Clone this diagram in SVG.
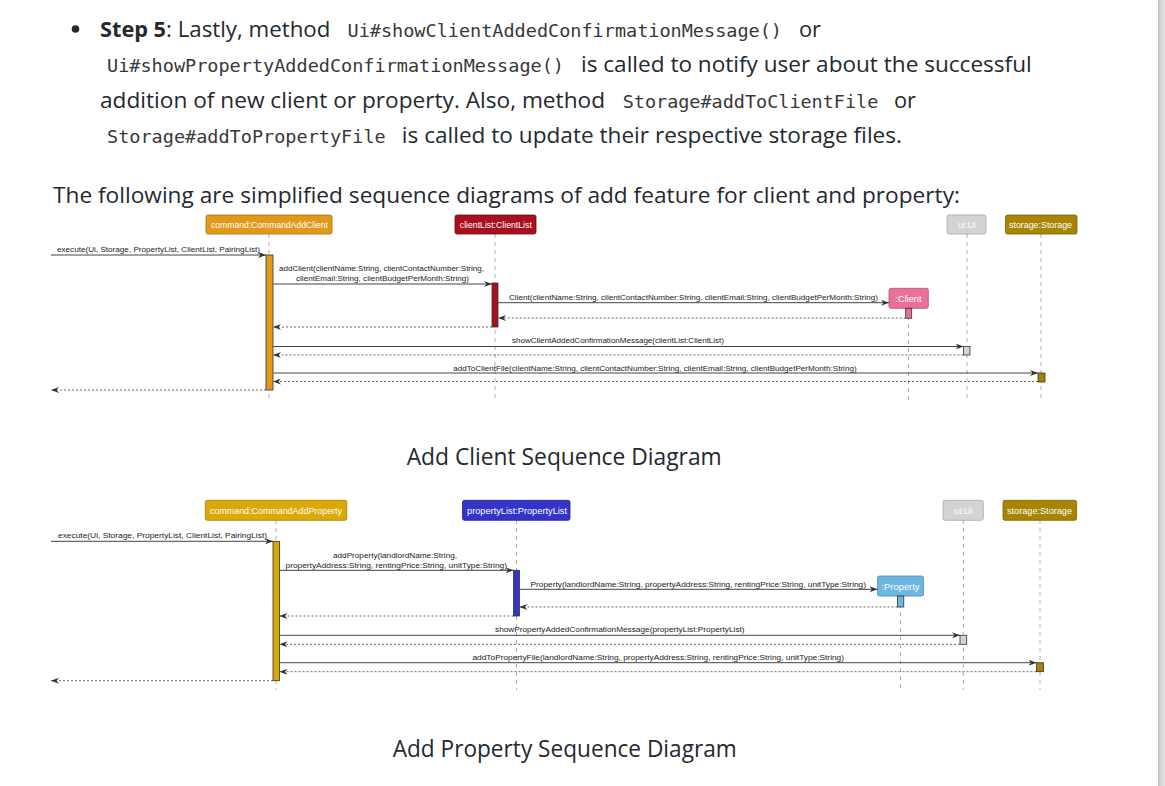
<svg xmlns="http://www.w3.org/2000/svg" width="1165" height="786" viewBox="0 0 1165 786">
<defs>
<style>
.body{font-family:"Open Sans","Noto Sans","DejaVu Sans",sans-serif;font-size:22px;fill:#24292f}
.bold{font-weight:bold}
.code{font-family:"DejaVu Sans Mono","Liberation Mono",monospace;font-size:18px;fill:#383838}
.cap{font-family:"Open Sans","Noto Sans","DejaVu Sans",sans-serif;font-size:24px;fill:#24292f}
.lbl{font-family:"Liberation Sans",Arial,sans-serif;font-size:8px;fill:#222}
.pl{font-family:"Liberation Sans",Arial,sans-serif;font-size:9.5px;fill:#fff;text-anchor:middle}
.life{stroke:#9a9a9a;stroke-width:0.8;stroke-dasharray:4,4;fill:none}
.msg{stroke:#444;stroke-width:1;fill:none;marker-end:url(#ah)}
.ret{stroke:#444;stroke-width:0.8;stroke-dasharray:2,2;fill:none;marker-end:url(#ah)}
.act{stroke:#333;stroke-width:0.8}
.box{stroke-width:0.8}
</style>
<marker id="ah" viewBox="0 0 8 6" markerWidth="8" markerHeight="6" refX="8" refY="3" orient="auto" markerUnits="userSpaceOnUse">
<path d="M0,0 L8,3 L0,6 L2.5,3 Z" fill="#333"/>
</marker>
<linearGradient id="sb" x1="0" y1="0" x2="1" y2="0">
<stop offset="0" stop-color="#bdbdbd"/>
<stop offset="0.3" stop-color="#d4d4d4"/>
<stop offset="1" stop-color="#e2e2e2"/>
</linearGradient>
</defs>
<rect x="0" y="0" width="1165" height="786" fill="#ffffff"/>
<rect x="1158" y="0" width="7" height="786" fill="url(#sb)"/>

<g id="page-text">
<circle cx="75.5" cy="29" r="3.8" fill="#24292f"/>
<text class="body bold" x="100" y="37" textLength="66" lengthAdjust="spacingAndGlyphs">Step 5</text>
<text class="body" x="166" y="37" textLength="164.4" lengthAdjust="spacingAndGlyphs">: Lastly, method</text>
<text class="code" x="347.5" y="37" textLength="434.5" lengthAdjust="spacingAndGlyphs">Ui#showClientAddedConfirmationMessage()</text>
<text class="body" x="799" y="37" textLength="22" lengthAdjust="spacingAndGlyphs">or</text>
<text class="code" x="107" y="72" textLength="457" lengthAdjust="spacingAndGlyphs">Ui#showPropertyAddedConfirmationMessage()</text>
<text class="body" x="581" y="72" textLength="450.7" lengthAdjust="spacingAndGlyphs">is called to notify user about the successful</text>
<text class="body" x="100" y="107.5" textLength="505" lengthAdjust="spacingAndGlyphs">addition of new client or property. Also, method</text>
<text class="code" x="622.7" y="107.5" textLength="255.6" lengthAdjust="spacingAndGlyphs">Storage#addToClientFile</text>
<text class="body" x="894" y="107.5" textLength="22" lengthAdjust="spacingAndGlyphs">or</text>
<text class="code" x="107" y="143" textLength="278.7" lengthAdjust="spacingAndGlyphs">Storage#addToPropertyFile</text>
<text class="body" x="401.8" y="143" textLength="500.2" lengthAdjust="spacingAndGlyphs">is called to update their respective storage files.</text>
<text class="body" x="53" y="203" font-size="23" textLength="907" lengthAdjust="spacingAndGlyphs">The following are simplified sequence diagrams of add feature for client and property:</text>
<text class="cap" x="406.7" y="465" textLength="315" lengthAdjust="spacingAndGlyphs">Add Client Sequence Diagram</text>
<text class="cap" x="392.7" y="756.7" textLength="344" lengthAdjust="spacingAndGlyphs">Add Property Sequence Diagram</text>
</g>

<!-- Diagram 1: Add Client -->
<g id="d1-command">
<line class="life" x1="269" y1="234" x2="269" y2="400"/>
<rect class="box" x="206" y="215" width="126" height="19" rx="2" fill="#E0991A" stroke="#a8730f"/>
<text class="pl" x="269.5" y="228.3" textLength="117" lengthAdjust="spacingAndGlyphs">command:CommandAddClient</text>
<rect class="act" x="266" y="255" width="7" height="135" fill="#E0991A"/>
</g>
<g id="d1-clientList">
<line class="life" x1="495" y1="234" x2="495" y2="400"/>
<rect class="box" x="455" y="215" width="81" height="19" rx="2" fill="#A80F1F" stroke="#700a14"/>
<text class="pl" x="495.8" y="228.3" textLength="72" lengthAdjust="spacingAndGlyphs">clientList:ClientList</text>
<rect class="act" x="492" y="283" width="6" height="44" fill="#A80F1F"/>
</g>
<g id="d1-client">
<line class="life" x1="908.5" y1="308" x2="908.5" y2="400"/>
<rect class="box" x="889" y="288.3" width="39.3" height="20" rx="2" fill="#E8709A" stroke="#b0506f"/>
<text class="pl" x="908.5" y="301.8" textLength="26" lengthAdjust="spacingAndGlyphs">:Client</text>
<rect class="act" x="905.7" y="308.3" width="6" height="10" fill="#E8709A"/>
</g>
<g id="d1-ui">
<line class="life" x1="967" y1="234" x2="967" y2="400"/>
<rect class="box" x="947" y="215" width="39" height="19" rx="2" fill="#D3D3D3" stroke="#a8a8a8"/>
<text class="pl" x="967" y="228.3" textLength="18" lengthAdjust="spacingAndGlyphs" fill="#f4f4f4">ui:Ui</text>
<rect class="act" x="963.5" y="346.5" width="6.5" height="8.5" fill="#D3D3D3"/>
</g>
<g id="d1-storage">
<line class="life" x1="1041" y1="234" x2="1041" y2="400"/>
<rect class="box" x="1005.5" y="215" width="71.5" height="19" rx="2" fill="#A88500" stroke="#7a6100"/>
<text class="pl" x="1040.5" y="228.3" textLength="63" lengthAdjust="spacingAndGlyphs">storage:Storage</text>
<rect class="act" x="1038" y="373" width="7" height="9" fill="#A88500"/>
</g>
<g id="d1-connectors">
<line class="msg" x1="51" y1="255" x2="266" y2="255"/>
<text class="lbl" x="57" y="252" textLength="203" lengthAdjust="spacingAndGlyphs">execute(Ui, Storage, PropertyList, ClientList, PairingList)</text>
<line class="msg" x1="273" y1="284" x2="492" y2="284"/>
<text class="lbl" x="279" y="271" textLength="205" lengthAdjust="spacingAndGlyphs">addClient(clientName:String, clientContactNumber:String,</text>
<text class="lbl" x="296" y="280.5" textLength="173" lengthAdjust="spacingAndGlyphs">clientEmail:String, clientBudgetPerMonth:String)</text>
<line class="msg" x1="498" y1="302.7" x2="889" y2="302.7"/>
<text class="lbl" x="509" y="299.5" textLength="369" lengthAdjust="spacingAndGlyphs">Client(clientName:String, clientContactNumber:String, clientEmail:String, clientBudgetPerMonth:String)</text>
<line class="ret" x1="905.7" y1="318" x2="498" y2="318"/>
<line class="ret" x1="492" y1="327" x2="273" y2="327"/>
<line class="msg" x1="273" y1="346.5" x2="963.5" y2="346.5"/>
<text class="lbl" x="512" y="343" textLength="212" lengthAdjust="spacingAndGlyphs">showClientAddedConfirmationMessage(clientList:ClientList)</text>
<line class="ret" x1="963.5" y1="355" x2="273" y2="355"/>
<line class="msg" x1="273" y1="373" x2="1038" y2="373"/>
<text class="lbl" x="453.3" y="370.5" textLength="403.3" lengthAdjust="spacingAndGlyphs">addToClientFile(clientName:String, clientContactNumber:String, clientEmail:String, clientBudgetPerMonth:String)</text>
<line class="ret" x1="1038" y1="381.5" x2="273" y2="381.5"/>
<line class="ret" x1="266" y1="390" x2="51" y2="390"/>
</g>

<!-- Diagram 2: Add Property -->
<g id="d2-command">
<line class="life" x1="276" y1="520" x2="276" y2="690"/>
<rect class="box" x="205.3" y="500.3" width="141.5" height="20" rx="2" fill="#D9AA07" stroke="#a07d00"/>
<text class="pl" x="276" y="514" textLength="132" lengthAdjust="spacingAndGlyphs">command:CommandAddProperty</text>
<rect class="act" x="273" y="541.3" width="6.5" height="139.4" fill="#D9AA07"/>
</g>
<g id="d2-propertyList">
<line class="life" x1="516.5" y1="520" x2="516.5" y2="690"/>
<rect class="box" x="462.5" y="500.3" width="107.5" height="20" rx="2" fill="#3434C8" stroke="#1f1f8a"/>
<text class="pl" x="517" y="514" textLength="100" lengthAdjust="spacingAndGlyphs">propertyList:PropertyList</text>
<rect class="act" x="513.5" y="570.3" width="6" height="45.7" fill="#3434C8"/>
</g>
<g id="d2-property">
<line class="life" x1="900.6" y1="596" x2="900.6" y2="690"/>
<rect class="box" x="877.5" y="576" width="46" height="20" rx="2" fill="#6CB6E0" stroke="#4a8db5"/>
<text class="pl" x="900.5" y="589.7" textLength="38" lengthAdjust="spacingAndGlyphs">:Property</text>
<rect class="act" x="897.5" y="596" width="6.3" height="11" fill="#6CB6E0"/>
</g>
<g id="d2-ui">
<line class="life" x1="963.3" y1="520" x2="963.3" y2="690"/>
<rect class="box" x="943" y="500.3" width="40.3" height="20" rx="2" fill="#D3D3D3" stroke="#a8a8a8"/>
<text class="pl" x="963.3" y="514" textLength="18.7" lengthAdjust="spacingAndGlyphs" fill="#f4f4f4">ui:Ui</text>
<rect class="act" x="960" y="635.3" width="6.7" height="9" fill="#D3D3D3"/>
</g>
<g id="d2-storage">
<line class="life" x1="1040" y1="520" x2="1040" y2="690"/>
<rect class="box" x="1003" y="500.3" width="73.6" height="20" rx="2" fill="#A88500" stroke="#7a6100"/>
<text class="pl" x="1039.5" y="514" textLength="65" lengthAdjust="spacingAndGlyphs">storage:Storage</text>
<rect class="act" x="1036.5" y="662.7" width="7" height="9" fill="#A88500"/>
</g>
<g id="d2-connectors">
<line class="msg" x1="51" y1="541.3" x2="273" y2="541.3"/>
<text class="lbl" x="58" y="538" textLength="209" lengthAdjust="spacingAndGlyphs">execute(Ui, Storage, PropertyList, ClientList, PairingList)</text>
<line class="msg" x1="279.5" y1="570.3" x2="513.5" y2="570.3"/>
<text class="lbl" x="333" y="558" textLength="124" lengthAdjust="spacingAndGlyphs">addProperty(landlordName:String,</text>
<text class="lbl" x="285.5" y="568" textLength="221.5" lengthAdjust="spacingAndGlyphs">propertyAddress:String, rentingPrice:String, unitType:String)</text>
<line class="msg" x1="519.5" y1="589.3" x2="877.5" y2="589.3"/>
<text class="lbl" x="530.5" y="587" textLength="335.5" lengthAdjust="spacingAndGlyphs">Property(landlordName:String, propertyAddress:String, rentingPrice:String, unitType:String)</text>
<line class="ret" x1="897.5" y1="607" x2="519.5" y2="607"/>
<line class="ret" x1="513.5" y1="616" x2="279.5" y2="616"/>
<line class="msg" x1="279.5" y1="635.3" x2="960" y2="635.3"/>
<text class="lbl" x="495" y="632" textLength="249.6" lengthAdjust="spacingAndGlyphs">showPropertyAddedConfirmationMessage(propertyList:PropertyList)</text>
<line class="ret" x1="960" y1="644.3" x2="279.5" y2="644.3"/>
<line class="msg" x1="279.5" y1="662.7" x2="1036.5" y2="662.7"/>
<text class="lbl" x="472.5" y="659.5" textLength="371.5" lengthAdjust="spacingAndGlyphs">addToPropertyFile(landlordName:String, propertyAddress:String, rentingPrice:String, unitType:String)</text>
<line class="ret" x1="1036.5" y1="671.7" x2="279.5" y2="671.7"/>
<line class="ret" x1="273" y1="680.7" x2="51" y2="680.7"/>
</g>
</svg>
